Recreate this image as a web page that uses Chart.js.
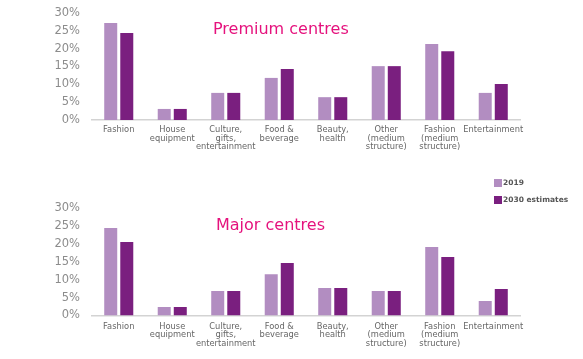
<!DOCTYPE html>
<html>
<head>
<meta charset="utf-8">
<script src="https://cdn.jsdelivr.net/npm/chart.js@4.4.0/dist/chart.umd.min.js"></script>
<style>
  html, body { margin: 0; padding: 0; background: #fff; }
  body { width: 583px; height: 359px; position: relative; overflow: hidden; font-family: "DejaVu Sans", sans-serif; }
  .wrap { position: absolute; left: 0; width: 583px; }
  .title { position: absolute; color: #e5127d; font-size: 16px; font-family: "DejaVu Sans", sans-serif; white-space: nowrap; line-height: 1; }
  .legend { position: absolute; left: 494px; top: 179px; font-size: 7.5px; font-weight: bold; color: #555; font-family: "DejaVu Sans", sans-serif; }
  .legend div { height: 8px; line-height: 8px; margin-bottom: 9px; white-space: nowrap; }
  .legend span { display: inline-block; width: 8px; height: 8px; vertical-align: top; margin-right: 1px; }
</style>
</head>
<body>
<div class="wrap" style="top:0px;height:170px;"><canvas id="c1"></canvas></div>
<div class="wrap" style="top:190px;height:169px;"><canvas id="c2"></canvas></div>
<div class="title" style="left:213px;top:21px;">Premium centres</div>
<div class="title" style="left:216px;top:217px;">Major centres</div>
<div class="legend">
  <div><span style="background:#b28dc1"></span>2019</div>
  <div><span style="background:#7a1f7f"></span>2030 estimates</div>
</div>
<script>
const categories = [
  ['Fashion'],
  ['House', 'equipment'],
  ['Culture,', 'gifts,', 'entertainment'],
  ['Food &', 'beverage'],
  ['Beauty,', 'health'],
  ['Other', '(medium', 'structure)'],
  ['Fashion', '(medium', 'structure)'],
  ['Entertainment']
];
const seriesNames = ['2019', '2030 estimates'];
const premium2019 = [27.2, 3.1, 7.6, 11.8, 6.4, 15.1, 21.3, 7.6];
const premium2030 = [24.4, 3.1, 7.6, 14.3, 6.4, 15.1, 19.3, 10.1];
const major2019 = [24.5, 2.4, 6.9, 11.6, 7.7, 6.9, 19.2, 4.1];
const major2030 = [20.6, 2.4, 6.9, 14.7, 7.7, 6.9, 16.4, 7.4];
const yTicks = [0, 5, 10, 15, 20, 25, 30];

const colors = ['#b28dc1', '#7a1f7f'];

function makeChart(id, a, b, topPad, xHeight, xPad) {
  return new Chart(document.getElementById(id), {
    type: 'bar',
    data: {
      labels: categories,
      datasets: [
        { label: seriesNames[0], data: a, backgroundColor: colors[0], categoryPercentage: 0.6, barPercentage: 0.81 },
        { label: seriesNames[1], data: b, backgroundColor: colors[1], categoryPercentage: 0.6, barPercentage: 0.81 }
      ]
    },
    options: {
      responsive: true,
      maintainAspectRatio: false,
      animation: false,
      layout: { padding: { top: topPad, right: 63, left: 0, bottom: 0 } },
      plugins: { legend: { display: false }, tooltip: { enabled: false }, title: { display: false } },
      scales: {
        y: {
          min: 0, max: 30,
          afterBuildTicks: s => { s.ticks = yTicks.map(v => ({ value: v })); },
          afterFit: s => { s.width = 92; s.paddingTop = 0; s.paddingBottom = 0; },
          grid: { display: false, drawTicks: false },
          border: { display: false },
          ticks: {
            padding: 12,
            color: '#8c8c8c',
            font: { family: 'DejaVu Sans', size: 11.5 },
            callback: v => v + '%'
          }
        },
        x: {
          afterFit: s => { s.height = xHeight; s.paddingTop = 0; s.paddingBottom = 0; },
          grid: { display: false, drawTicks: false },
          border: { display: true, color: '#d3d3d3', width: 1.5 },
          ticks: {
            padding: xPad,
            maxRotation: 0,
            autoSkip: false,
            color: '#666666',
            font: { family: 'DejaVu Sans', size: 8.3, lineHeight: 1.02 }
          }
        }
      }
    }
  });
}

makeChart('c1', premium2019, premium2030, 13, 50, 6);
makeChart('c2', major2019, major2030, 18.5, 43.5, 7);
</script>
</body>
</html>
